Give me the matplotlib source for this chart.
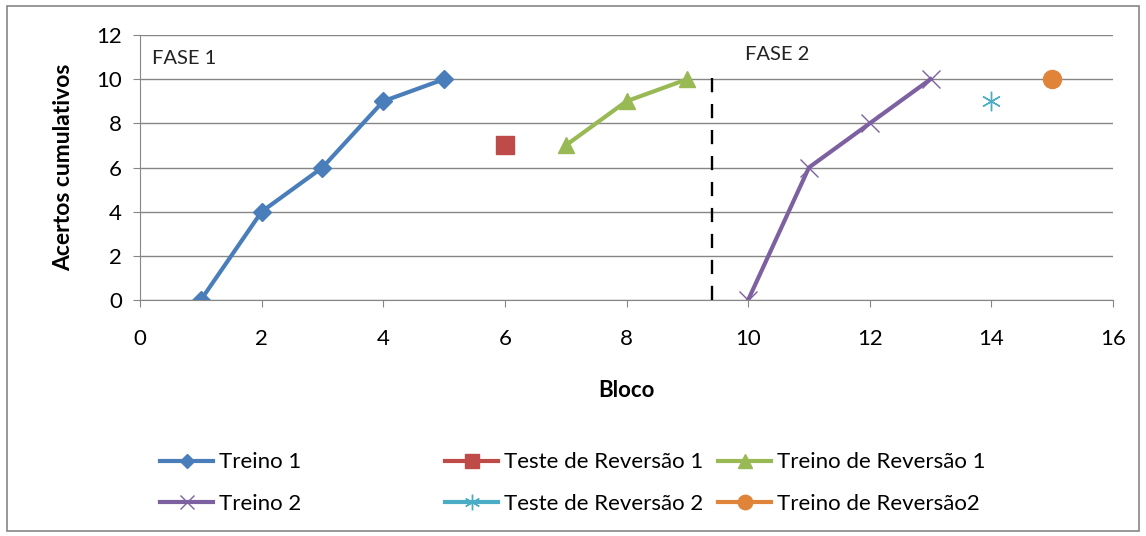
import matplotlib.pyplot as plt
from matplotlib.patches import Rectangle

plt.rcParams['font.family'] = ['Lato', 'DejaVu Sans']

# Data
treino1_x = [1, 2, 3, 4, 5]
treino1_y = [0, 4, 6, 9, 10]
teste_rev1_x = [6]
teste_rev1_y = [7]
treino_rev1_x = [7, 8, 9]
treino_rev1_y = [7, 9, 10]
treino2_x = [10, 11, 12, 13]
treino2_y = [0, 6, 8, 10]
teste_rev2_x = [14]
teste_rev2_y = [9]
treino_rev2_x = [15]
treino_rev2_y = [10]
fase_divider = 9.4

fig = plt.figure(figsize=(11.46, 5.36), dpi=100)
ax = fig.add_axes([0.1222, 0.4403, 0.8490, 0.4944])

# outer border of the chart
fig.patches.append(Rectangle((0.006, 0.01), 0.988, 0.978, transform=fig.transFigure,
                             fill=False, edgecolor='#868686', linewidth=1.2))

h1, = ax.plot(treino1_x, treino1_y, color='#4A7EBB', lw=3, marker='D', ms=9, label='Treino 1')
h2, = ax.plot(teste_rev1_x, teste_rev1_y, color='#BE4B48', lw=3, marker='s', ms=13,
              linestyle='-', label='Teste de Reversão 1')
h3, = ax.plot(treino_rev1_x, treino_rev1_y, color='#98B954', lw=3, marker='^', ms=12,
              label='Treino de Reversão 1')
h4, = ax.plot(treino2_x, treino2_y, color='#7D60A0', lw=3, marker='x', ms=13, mew=1,
              label='Treino 2')
h5, = ax.plot(teste_rev2_x, teste_rev2_y, color='#4BACC6', lw=3, marker=(6, 2, 0), ms=14, mew=1,
              linestyle='-', label='Teste de Reversão 2')
h6, = ax.plot(treino_rev2_x, treino_rev2_y, color='#E0843A', lw=3, marker='o', ms=13,
              linestyle='-', label='Treino de Reversão2')

ax.plot([fase_divider, fase_divider], [0, 10.2], color='black', lw=1.7, dashes=(6, 5))

ax.text(0.2, 10.95, 'FASE 1', fontsize=14.5, va='center', color='#222222')
ax.text(9.95, 11.1, 'FASE 2', fontsize=14.5, va='center', color='#222222')

ax.set_xlim(0, 16)
ax.set_ylim(0, 12)
ax.set_xticks(range(0, 17, 2))
ax.set_yticks(range(0, 13, 2))
ax.tick_params(labelsize=16, length=5, color='#868686', pad=8)
ax.tick_params(axis='x', pad=16)
ax.grid(axis='y', color='#868686', lw=1)
ax.set_axisbelow(True)
for s in ['top', 'right']:
    ax.spines[s].set_visible(False)
for s in ['left', 'bottom']:
    ax.spines[s].set_color('#868686')

ax.set_xlabel('Bloco', fontsize=16, fontweight='bold', labelpad=22)
ax.set_ylabel('Acertos cumulativos', fontsize=16.5, fontweight='bold', labelpad=16)

# legend in three columns, placed separately
cols = [([h1, h4], 0.1396), ([h2, h5], 0.3883), ([h3, h6], 0.6265)]
for handles, xpos in cols:
    fig.legend(handles=handles, loc='center left', bbox_to_anchor=(xpos, 0.0989), frameon=False,
               fontsize=16, handlelength=2.4, handletextpad=0.27, labelspacing=0.95,
               borderaxespad=0, borderpad=0, markerscale=0.8)

plt.savefig('out.png', dpi=100)
plt.close()
